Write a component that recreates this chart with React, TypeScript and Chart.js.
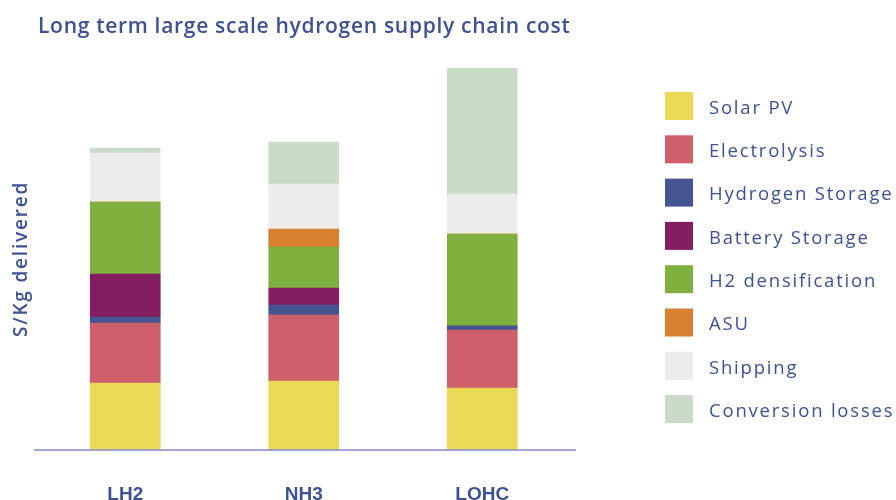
import React, { useEffect, useRef } from "react";
import { Chart, registerables } from "chart.js";

Chart.register(...registerables);

const TITLE = "Long term large scale hydrogen supply chain cost";
const Y_LABEL = "S/Kg delivered";

const categories = ["LH2", "NH3", "LOHC"];
const seriesNames = [
  "Solar PV",
  "Electrolysis",
  "Hydrogen Storage",
  "Battery Storage",
  "H2 densification",
  "ASU",
  "Shipping",
  "Conversion losses",
];
const seriesColors = [
  "#ecd857",
  "#cf5f6b",
  "#445592",
  "#831e62",
  "#80b03f",
  "#d98032",
  "#ececec",
  "#cbdac9",
];

const solarPV = [0.67, 0.69, 0.62];
const electrolysis = [0.6, 0.66, 0.58];
const hydrogenStorage = [0.06, 0.1, 0.04];
const batteryStorage = [0.43, 0.17, 0];
const h2Densification = [0.72, 0.41, 0.92];
const asu = [0, 0.18, 0];
const shipping = [0.49, 0.45, 0.4];
const conversionLosses = [0.05, 0.42, 1.26];

const seriesValues = [
  solarPV,
  electrolysis,
  hydrogenStorage,
  batteryStorage,
  h2Densification,
  asu,
  shipping,
  conversionLosses,
];

const TEXT_COLOR = "#3e5193";
const AXIS_COLOR = "#7f8ec6";

const overlayPlugin = {
  id: "overlay",
  afterDraw(chart: any) {
    const ctx = chart.ctx as CanvasRenderingContext2D;
    const yScale = chart.scales.y;
    const area = chart.chartArea;
    ctx.save();

    // baseline (x axis line)
    const y0 = yScale.getPixelForValue(0);
    ctx.strokeStyle = AXIS_COLOR;
    ctx.lineWidth = 1.5;
    ctx.beginPath();
    ctx.moveTo(34, y0);
    ctx.lineTo(576, y0);
    ctx.stroke();

    // title
    ctx.fillStyle = TEXT_COLOR;
    ctx.font = "600 21px 'Open Sans'";
    (ctx as any).letterSpacing = "0.7px";
    ctx.textBaseline = "alphabetic";
    ctx.textAlign = "left";
    ctx.fillText(TITLE, 38, 33);

    // y axis label
    ctx.save();
    ctx.translate(22, (area.top + area.bottom) / 2);
    ctx.rotate(-Math.PI / 2);
    ctx.font = "600 19px 'Open Sans'";
    (ctx as any).letterSpacing = "1.8px";
    ctx.textAlign = "center";
    ctx.textBaseline = "middle";
    ctx.fillText(Y_LABEL, 0, 0);
    ctx.restore();

    // legend
    chart.data.datasets.forEach((ds: any, i: number) => {
      const y = 92 + i * 43.3;
      ctx.fillStyle = ds.backgroundColor;
      ctx.fillRect(665, y, 28, 28);
      ctx.fillStyle = TEXT_COLOR;
      ctx.font = "18.5px 'Open Sans'";
      (ctx as any).letterSpacing = "1.8px";
      ctx.textAlign = "left";
      ctx.textBaseline = "middle";
      ctx.fillText(ds.label, 709, y + 16.5);
    });
    ctx.restore();
  },
};

export default function App() {
  const canvasRef = useRef<HTMLCanvasElement | null>(null);

  useEffect(() => {
    if (!canvasRef.current) return;
    const chart = new Chart(canvasRef.current, {
      type: "bar",
      data: {
        labels: categories,
        datasets: seriesNames.map((name, i) => ({
          label: name,
          data: seriesValues[i],
          backgroundColor: seriesColors[i],
          borderWidth: 0,
          barThickness: 70,
        })),
      },
      options: {
        responsive: false,
        animation: false,
        layout: { padding: { left: 9, right: 324.5, top: 68, bottom: 0 } },
        plugins: {
          legend: { display: false },
          title: { display: false },
          tooltip: { enabled: false },
        },
        scales: {
          x: {
            stacked: true,
            grid: { display: false, drawTicks: false },
            border: { display: false },
            ticks: {
              padding: 33,
              color: TEXT_COLOR,
              font: { family: "'Liberation Sans', Arial, sans-serif", size: 19, weight: "bold" },
            },
            afterFit: (s: any) => {
              s.height = 50;
            },
          },
          y: {
            stacked: true,
            min: 0,
            max: 3.82,
            grid: { display: false, drawTicks: false },
            border: { display: false },
            ticks: { display: false },
            title: { display: false },
            afterFit: (s: any) => {
              s.width = 27;
            },
          },
        },
      },
      plugins: [overlayPlugin],
    });
    return () => chart.destroy();
  }, []);

  return (
    <div style={{ position: "fixed", left: 0, top: 0, width: 896, height: 500, background: "#ffffff" }}>
      <canvas ref={canvasRef} width={896} height={500} style={{ display: "block" }} />
    </div>
  );
}
